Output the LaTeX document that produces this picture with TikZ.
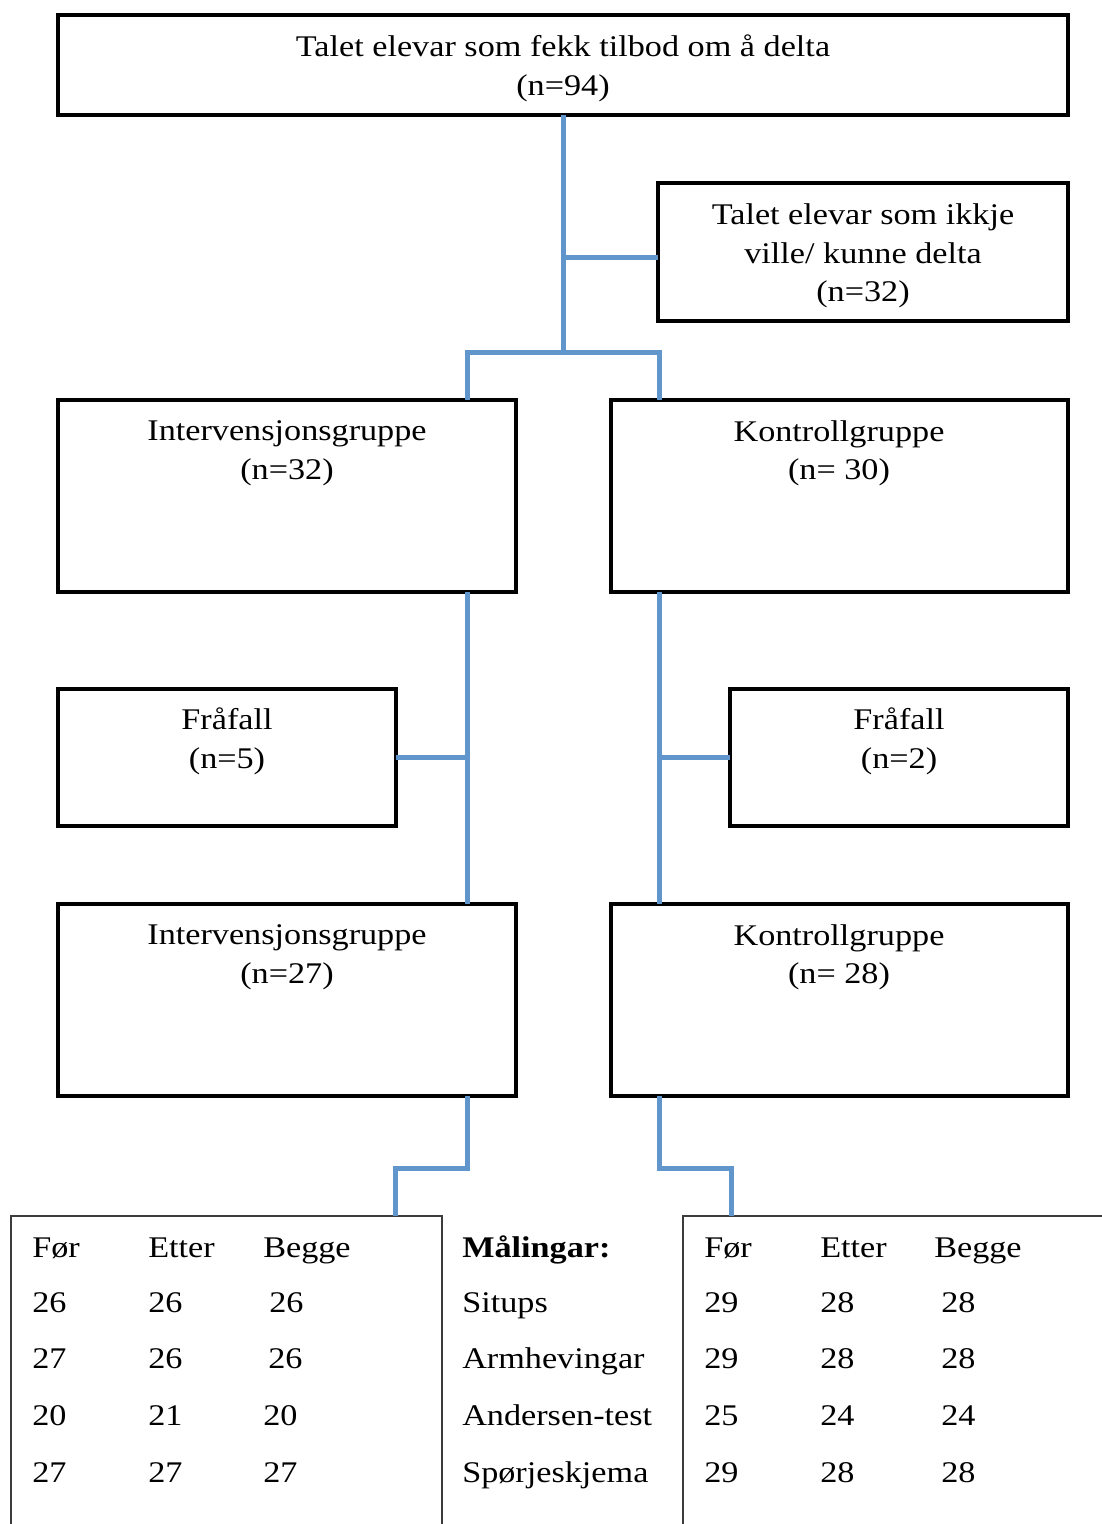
\documentclass[tikz,border=0pt]{standalone}
\usepackage{fontspec}
\setmainfont{Liberation Serif}[FakeStretch=1.14]
\definecolor{connblue}{RGB}{96,150,203}
\definecolor{tblgray}{RGB}{60,60,60}
\begin{document}
\begin{tikzpicture}[x=0.75pt,y=-0.75pt,
  every node/.style={font=\fontsize{22.5pt}{28.9pt}\selectfont},
  box/.style={draw=black,line width=3pt,inner sep=0pt,outer sep=0pt},
  lbl/.style={align=center,inner sep=0pt},
  conn/.style={draw=connblue,line width=3.75pt},
  tbl/.style={draw=tblgray,line width=1.1pt},
  cell/.style={anchor=base west,inner sep=0pt}]
\useasboundingbox (0,0) rectangle (1102,1524);
\clip (0,0) rectangle (1102,1524);
% boxes
\node[box,minimum width=757.5pt,minimum height=75pt] (top) at (563,65) {};
\node[box,minimum width=307.5pt,minimum height=103.5pt] (nodelt) at (863,252) {};
\node[box,minimum width=343.5pt,minimum height=144pt] (ig1) at (287,496) {};
\node[box,minimum width=342.75pt,minimum height=144pt] (kg1) at (839.5,496) {};
\node[box,minimum width=253.5pt,minimum height=102.75pt] (ff1) at (227,757) {};
\node[box,minimum width=253.5pt,minimum height=102.75pt] (ff2) at (899,757) {};
\node[box,minimum width=343.5pt,minimum height=144pt] (ig2) at (287,1000) {};
\node[box,minimum width=342.75pt,minimum height=144pt] (kg2) at (839.5,1000) {};
% box texts
\node[lbl] (ttop) at (563,68.5) {Talet elevar som fekk tilbod om å delta\\(n=94)};
\node[lbl] (tnodelt) at (863,256) {Talet elevar som ikkje\\ville/ kunne delta\\(n=32)};
\node[lbl] (tig1) at (287,453.5) {Intervensjonsgruppe\\(n=32)};
\node[lbl] (tkg1) at (839,453.5) {Kontrollgruppe\\(n= 30)};
\node[lbl] (tff1) at (227,741.5) {Fråfall\\(n=5)};
\node[lbl] (tff2) at (899,741.5) {Fråfall\\(n=2)};
\node[lbl] (tig2) at (287,957.5) {Intervensjonsgruppe\\(n=27)};
\node[lbl] (tkg2) at (839,957.5) {Kontrollgruppe\\(n= 28)};
% tables
\coordinate (tl) at (395,1216);
\coordinate (tr) at (731,1216);
\draw[tbl] (11,1530) -- (11,1216) -- (442,1216) -- (442,1530);
\draw[tbl] (683,1530) -- (683,1216) -- (1110,1216);
% connectors
\coordinate (jm) at (563,352);
\coordinate (jn) at (563,257);
\coordinate (jl) at (467,352);
\coordinate (jr) at (659,352);
\draw[conn] (top.south) -- (jm);
\draw[conn] (jn) -- (jn -| nodelt.west);
\draw[conn] (jl |- ig1.north) -- (jl) -- (jr) -- (jr |- kg1.north);
\draw[conn] (jl |- ig1.south) -- (jl |- ig2.north);
\draw[conn] (jr |- kg1.south) -- (jr |- kg2.north);
\draw[conn] (ff1.east) -- (jl |- ff1.east);
\draw[conn] (ff2.west) -- (jr |- ff2.west);
\draw[conn] (jl |- ig2.south) -- ++(0,72) -| (tl);
\draw[conn] (jr |- kg2.south) -- ++(0,72) -| (tr);
% left table
\node[cell] (l11) at (32,1257) {Før};
\node[cell] (l12) at (148,1257) {Etter};
\node[cell] (l13) at (263,1257) {Begge};
\node[cell] (l21) at (32,1312) {26};
\node[cell] (l22) at (148,1312) {26};
\node[cell] (l23) at (269,1312) {26};
\node[cell] (l31) at (32,1368) {27};
\node[cell] (l32) at (148,1368) {26};
\node[cell] (l33) at (268,1368) {26};
\node[cell] (l41) at (32,1425) {20};
\node[cell] (l42) at (148,1425) {21};
\node[cell] (l43) at (263,1425) {20};
\node[cell] (l51) at (32,1482) {27};
\node[cell] (l52) at (148,1482) {27};
\node[cell] (l53) at (263,1482) {27};
% middle
\node[cell] (m1) at (462,1257) {\bfseries Målingar:};
\node[cell] (m2) at (462,1312) {Situps};
\node[cell] (m3) at (462,1368) {Armhevingar};
\node[cell] (m4) at (462,1425) {Andersen-test};
\node[cell] (m5) at (462,1482) {Spørjeskjema};
% right table
\node[cell] (r11) at (704,1257) {Før};
\node[cell] (r12) at (820,1257) {Etter};
\node[cell] (r13) at (934,1257) {Begge};
\node[cell] (r21) at (704,1312) {29};
\node[cell] (r22) at (820,1312) {28};
\node[cell] (r23) at (941,1312) {28};
\node[cell] (r31) at (704,1368) {29};
\node[cell] (r32) at (820,1368) {28};
\node[cell] (r33) at (941,1368) {28};
\node[cell] (r41) at (704,1425) {25};
\node[cell] (r42) at (820,1425) {24};
\node[cell] (r43) at (941,1425) {24};
\node[cell] (r51) at (704,1482) {29};
\node[cell] (r52) at (820,1482) {28};
\node[cell] (r53) at (941,1482) {28};
\end{tikzpicture}
\end{document}
